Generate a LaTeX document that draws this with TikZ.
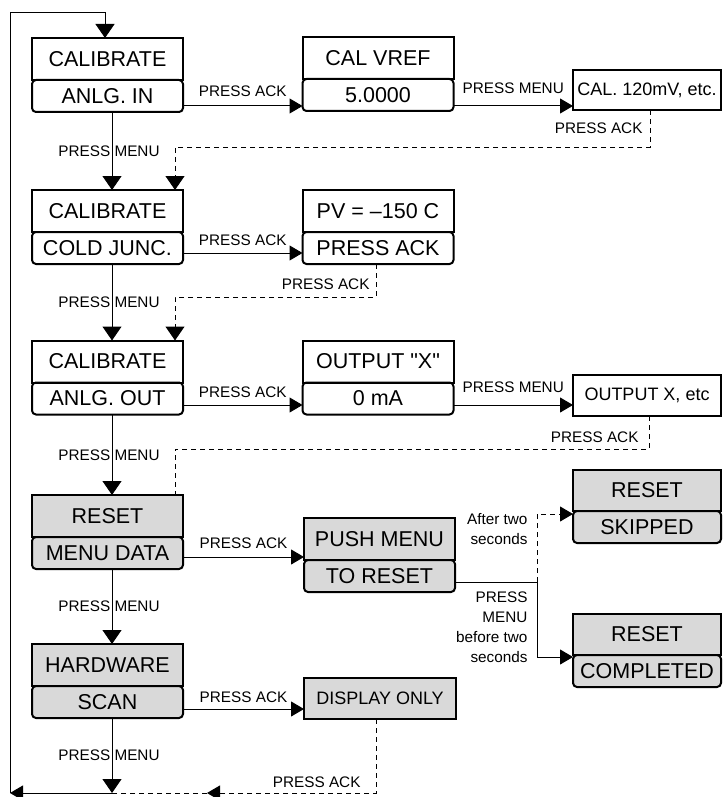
\documentclass[tikz,border=0pt]{standalone}
\usepackage{fontspec}
\setmainfont{Liberation Sans}
\newfontfamily\rawfont[Ligatures=TeXOff]{Liberation Sans}
\usetikzlibrary{arrows.meta}

\begin{document}
\begin{tikzpicture}[x=1pt, y=-1pt, line width=1pt,
    hd/.style={draw, line width=2pt, outer sep=0pt, inner sep=0pt,
      minimum width=151pt, minimum height=42pt, font=\fontsize{21.5}{25}\selectfont},
    sub/.style={hd, rounded corners=4pt, minimum height=32pt, anchor=north},
    one/.style={hd, minimum width=148pt, minimum height=41pt, font=\fontsize{18}{22}\selectfont},
    grey/.style={fill=black!15},
    lbl/.style={font=\fontsize{15.3}{20}\selectfont, inner sep=0pt},
    harr/.style={-{Triangle[length=13pt,width=15pt]}},
    varr/.style={-{Triangle[length=14pt,width=19pt]}},
    ret/.style={dash pattern=on 5pt off 4pt}]
  \useasboundingbox (0,0) rectangle (723,797);

  % left column
  \node[hd] (cal1) at (107.5,59) {CALIBRATE};
  \node[sub] (anlgin) at (cal1.south) {ANLG. IN};
  \node[hd] (cal2) at (107.5,211) {CALIBRATE};
  \node[sub] (coldj) at (cal2.south) {COLD JUNC.};
  \node[hd] (cal3) at (107.5,361.5) {CALIBRATE};
  \node[sub] (anlgout) at (cal3.south) {ANLG. OUT};
  \node[hd, grey] (reset) at (107.5,516) {RESET};
  \node[sub, grey] (menudata) at (reset.south) {MENU DATA};
  \node[hd, grey] (hw) at (107.5,665) {HARDWARE};
  \node[sub, grey] (scan) at (hw.south) {SCAN};

  % middle column
  \node[hd] (vref) at (378,58) {CAL VREF};
  \node[sub] (vrefval) at (vref.south) {5.0000};
  \node[hd] (pv) at (378,211) {PV = –150 C};
  \node[sub] (pvack) at (pv.south) {PRESS ACK};
  \node[hd] (outx) at (378,361.5) {OUTPUT {\rawfont"}X{\rawfont"}};
  \node[sub] (outma) at (outx.south) {0 mA};
  \node[hd, grey] (push) at (379.5,539) {PUSH MENU};
  \node[sub, grey] (toreset) at (push.south) {TO RESET};
  \node[one, grey, minimum width=152pt] (disp) at (380,698.5) {DISPLAY ONLY};

  % right column
  \node[one, minimum height=40pt] (cal120) at (647,90) {CAL. 120mV, etc.};
  \node[one] (outxetc) at (647,395.5) {OUTPUT X, etc};
  \node[hd, grey, minimum width=148pt, minimum height=41pt] (rs1) at (647,490.5) {RESET};
  \node[sub, grey, minimum width=148pt] (skipped) at (rs1.south) {SKIPPED};
  \node[hd, grey, minimum width=148pt, minimum height=41pt] (rs2) at (647,634.5) {RESET};
  \node[sub, grey, minimum width=148pt] (compl) at (rs2.south) {COMPLETED};

  % press ack / press menu to the right
  \draw[harr] (anlgin.east |- 0,106) -- (vrefval.west |- 0,106) node[midway, above=9pt, lbl] {PRESS ACK};
  \draw[harr] (vrefval.east |- 0,106) -- (cal120.west |- 0,106) node[midway, above=12pt, lbl] {PRESS MENU};
  \draw[harr] (coldj.east |- 0,253) -- (pvack.west |- 0,253) node[midway, above=7pt, lbl] {PRESS ACK};
  \draw[harr] (anlgout.east |- 0,405) -- (outma.west |- 0,405) node[midway, above=7pt, lbl] {PRESS ACK};
  \draw[harr] (outma.east |- 0,405) -- (outxetc.west |- 0,405) node[midway, above=12pt, lbl] {PRESS MENU};
  \draw[harr] (menudata.east |- 0,557) -- (toreset.west |- 0,557) node[midway, above=8pt, lbl] {PRESS ACK};
  \draw[harr] (scan.east |- 0,709) -- (disp.west |- 0,709) node[midway, above=6pt, lbl] {PRESS ACK};

  % press menu downwards
  \coordinate (bot) at (112,793);
  \draw[varr] (anlgin.south -| 112,0) -- (cal2.north -| 112,0) node[midway, xshift=-3pt, lbl] {PRESS MENU};
  \draw[varr] (coldj.south -| 112,0) -- (cal3.north -| 112,0) node[midway, xshift=-3pt, lbl] {PRESS MENU};
  \draw[varr] (anlgout.south -| 112,0) -- (reset.north -| 112,0) node[midway, xshift=-3pt, lbl] {PRESS MENU};
  \draw[varr] (menudata.south -| 112,0) -- (hw.north -| 112,0) node[midway, xshift=-3pt, lbl] {PRESS MENU};
  \draw[varr] (scan.south -| 112,0) -- (bot) node[midway, xshift=-3pt, lbl] {PRESS MENU};

  % loop back to the top
  \coordinate (bl) at (10,793);
  \draw[harr] (bot) -- (bl);
  \draw[varr] (bl) -- (10,13) -- (105,13) -- (cal1.north -| 105,0);

  % dashed returns
  \draw[ret, varr] (cal120.south -| 650,0) -- node[left=7pt, lbl] {PRESS ACK} (650,147) -- (175,147) -- (cal2.north -| 175,0);
  \draw[ret, varr] (pvack.south -| 376,0) -- node[left=6pt, pos=0.6, lbl] {PRESS ACK} (376,297) -- (175,297) -- (cal3.north -| 175,0);
  \draw[ret] (outxetc.south -| 649,0) -- node[left=10pt, pos=0.65, lbl] {PRESS ACK} (649,449) -- (175,449) -- (reset.north -| 175,0);
  \draw[ret, harr] (disp.south -| 376,0) -- node[left=15pt, pos=0.85, lbl] {PRESS ACK} (376,793) -- (207,793);
  \draw[ret] (207,793) -- (bot);

  % reset choice
  \coordinate (fork) at (537,582);
  \draw (toreset.east |- 0,582) -- (fork);
  \draw[harr] (fork) -- (537,657) -- (compl.west |- 0,657);
  \draw[ret, harr] (fork) -- (537,514) -- (skipped.west |- 0,514);
  \node[lbl, anchor=east, align=right] (aft) at (528,529) {After two\\seconds};
  \node[lbl, anchor=east, align=right] (bef) at (528,627.5) {PRESS\\MENU\\before two\\seconds};
\end{tikzpicture}
\end{document}
